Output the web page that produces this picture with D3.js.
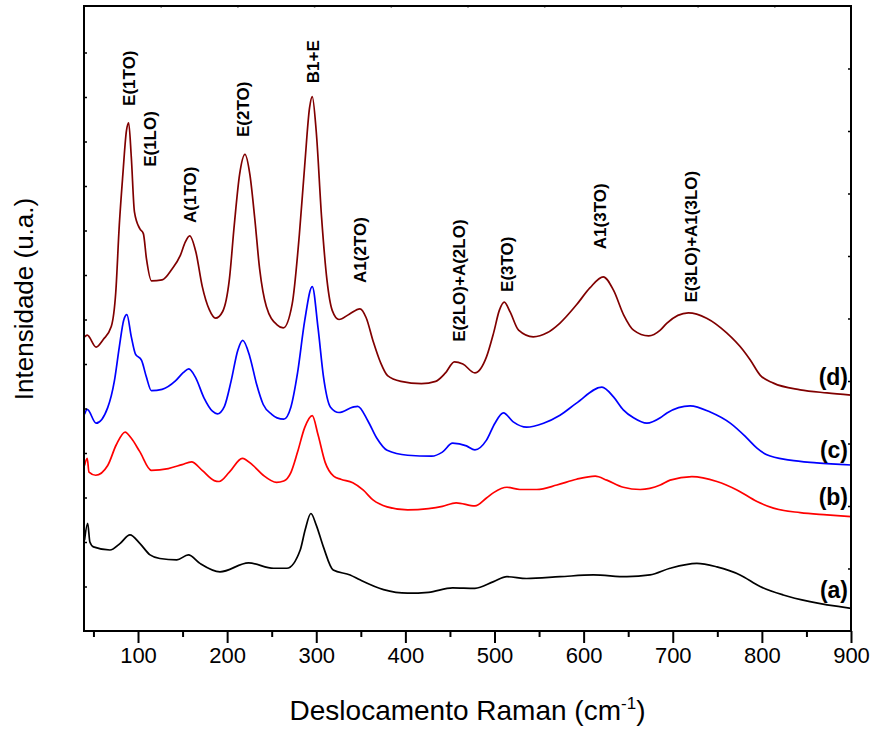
<!DOCTYPE html>
<html>
<head>
<meta charset="utf-8">
<script src="https://cdn.jsdelivr.net/npm/d3@7"></script>
<style>
  body { margin: 0; background: #fff; }
  svg { font-family: "Liberation Sans", Arial, sans-serif; }
</style>
</head>
<body>
<svg id="chart" width="878" height="731"></svg>
<script>
// espectros Raman: [deslocamento (cm-1), intensidade (u.a.)]
var serieA = [[40, 2.04], [43.5, 2.42], [46, 2.0], [50, 1.89], [68.5, 1.82], [80, 1.97], [91, 2.16], [102, 1.97],
  [113.5, 1.71], [124.5, 1.63], [143.5, 1.60], [156.5, 1.71], [169.5, 1.52], [192, 1.33], [224, 1.53], [252, 1.41],
  [267, 1.41], [282, 1.82], [287.5, 2.27], [294, 2.64], [300, 2.38], [308, 1.89], [319, 1.37], [338, 1.26],
  [349, 1.15], [375.5, 0.93], [402.5, 0.85], [426, 0.87], [453, 0.97], [478, 0.96], [499, 1.11], [514, 1.22],
  [536, 1.18], [573.5, 1.22], [611, 1.26], [648.5, 1.22], [674.5, 1.26], [697, 1.41], [727, 1.52], [749.5, 1.44],
  [775.5, 1.26], [798, 1.00], [824, 0.81], [854, 0.66], [900, 0.51]];

var serieB = [[40, 3.72], [43, 3.88], [45, 3.57], [52.5, 3.50], [66, 3.72], [75.5, 4.18], [85.5, 4.47], [92.5, 4.33],
  [102, 4.03], [115, 3.61], [134, 3.65], [149.5, 3.74], [160, 3.80], [172, 3.61], [185.5, 3.38], [191, 3.36],
  [202.5, 3.57], [217, 3.88], [229, 3.72], [240.5, 3.50], [255.5, 3.34], [263.5, 3.37], [271.5, 3.56], [279, 4.02],
  [287, 4.57], [295.5, 4.84], [302, 4.41], [310, 3.79], [319.5, 3.48], [327.5, 3.41], [341, 3.33], [352.5, 3.17],
  [364, 2.94], [379.5, 2.79], [402.5, 2.72], [426, 2.75], [441.5, 2.80], [457, 2.88], [478, 2.81], [491, 2.99],
  [499, 3.11], [514, 3.23], [528.5, 3.18], [547.5, 3.18], [570, 3.28], [592, 3.41], [613, 3.48], [626, 3.39],
  [644.5, 3.23], [663.5, 3.18], [686, 3.28], [697, 3.39], [721.5, 3.47], [749.5, 3.36], [772, 3.17], [794.5, 2.91],
  [813, 2.76], [843, 2.66], [873, 2.61], [900, 2.57]];

var serieC = [[40, 4.87], [43, 4.98], [53, 4.67], [66, 5.02], [73.5, 5.62], [79, 6.38], [84, 6.99], [87.5, 7.11],
  [92.5, 6.61], [97, 6.23], [104, 6.08], [109.5, 5.70], [115, 5.40], [127, 5.43], [142, 5.62], [151, 5.81],
  [157, 5.89], [164.5, 5.70], [174, 5.24], [183.5, 4.94], [189, 4.88], [197, 5.05], [204.5, 5.62], [212, 6.31],
  [217.5, 6.53], [225.5, 6.16], [233, 5.55], [240.5, 5.09], [250, 4.87], [256, 4.79], [263.5, 4.76], [271.5, 5.03],
  [279, 5.80], [287, 6.97], [295.5, 7.74], [302, 6.81], [308, 5.73], [316, 5.03], [325.5, 4.91], [341, 5.03],
  [346.5, 5.05], [358, 4.72], [368, 4.33], [379.5, 4.06], [402.5, 3.95], [429.5, 3.93], [441.5, 4.02], [453, 4.22],
  [468.5, 4.16], [478, 4.07], [491, 4.29], [500.5, 4.67], [510, 4.90], [521, 4.70], [536, 4.58], [555, 4.67],
  [573.5, 4.85], [592, 5.12], [620.5, 5.48], [633.5, 5.26], [644.5, 4.97], [656, 4.79], [671, 4.67], [686, 4.79],
  [693.5, 4.90], [719.5, 5.06], [742, 4.92], [764.5, 4.67], [783, 4.34], [794.5, 4.11], [805.5, 3.96], [831.5, 3.84],
  [861.5, 3.78], [900, 3.73]];

var serieD = [[40, 6.61], [43, 6.65], [53, 6.38], [61, 6.55], [70, 6.84], [75, 7.60], [79, 9.12], [83, 10.26],
  [87, 11.24], [89.5, 11.42], [92.5, 10.64], [96, 9.42], [102, 9.04], [106, 8.93], [109.5, 8.36], [115, 7.87],
  [127, 7.89], [138, 8.13], [147.5, 8.44], [153, 8.74], [158, 8.88], [165, 8.51], [172, 7.75], [180, 7.22],
  [187, 7.03], [195, 7.18], [202.5, 7.90], [208, 9.12], [214, 10.26], [220, 10.71], [225.5, 10.26], [231, 9.27],
  [236.5, 8.13], [244, 7.29], [256, 6.88], [263, 6.81], [273, 7.35], [281, 8.90], [287, 10.45], [292.5, 11.76],
  [295.5, 12.01], [300, 11.22], [306, 9.29], [312, 7.89], [318, 7.20], [325.5, 7.00], [337, 7.12], [349, 7.24],
  [356, 7.04], [364, 6.50], [372, 6.04], [380, 5.74], [395, 5.61], [418, 5.56], [434, 5.61], [445, 5.80],
  [455, 6.05], [464.5, 6.00], [478, 5.80], [491, 6.16], [499, 6.70], [505.5, 7.21], [511, 7.39], [517.5, 7.17],
  [527, 6.76], [543.5, 6.61], [559, 6.70], [573.5, 6.92], [592, 7.33], [607, 7.71], [622, 7.96], [633.5, 7.66],
  [645, 7.10], [656, 6.76], [673, 6.63], [686, 6.76], [693.5, 6.92], [717.5, 7.15], [738, 7.03], [760.5, 6.70],
  [779, 6.31], [787, 6.09], [798, 5.75], [813, 5.57], [843, 5.42], [873, 5.35], [900, 5.30]];

var series = [serieA, serieB, serieC, serieD];
var nomesSeries = ["(a)", "(b)", "(c)", "(d)"];
var cores = ["#000000", "#ff0000", "#0000ff", "#800000"];
var yNomes = [0.92, 3.01, 4.07, 5.71];   // altura dos rotulos (a)..(d)

// modos vibracionais
var picoNomes = ["E(1TO)", "E(1LO)", "A(1TO)", "E(2TO)", "B1+E", "A1(2TO)", "E(2LO)+A(2LO)", "E(3TO)", "A1(3TO)", "E(3LO)+A1(3LO)"];
var picoX = [89.9, 113.5, 158.4, 217.8, 296.4, 348.7, 460, 514.1, 618.5, 720.1];
var picoY = [11.80, 10.43, 9.17, 11.10, 12.31, 7.82, 6.50, 7.62, 8.58, 7.38];

var xTicks = [100, 200, 300, 400, 500, 600, 700, 800, 900];
var xMinor = [50, 150, 250, 350, 450, 550, 650, 750, 850];

var margin = { top: 6, right: 27, bottom: 100, left: 84 },
  width = 878 - margin.left - margin.right,
  height = 731 - margin.top - margin.bottom;

var svg = d3.select("#chart").append("g")
  .attr("transform", "translate(" + margin.left + "," + margin.top + ")");

var x = d3.scaleLinear().domain([39.4, 900]).range([0, width]);
var yMax = 14.045;
var y = d3.scaleLinear().domain([0, yMax]).range([height, 0]);

svg.append("clipPath").attr("id", "area")
  .append("rect").attr("width", width).attr("height", height);

// curvas
var linha = d3.line()
  .x(function (d) { return x(d[0]); })
  .y(function (d) { return y(d[1]); })
  .curve(d3.curveMonotoneX);

svg.append("g").attr("clip-path", "url(#area)")
  .selectAll("path")
  .data(series)
  .enter()
  .append("path")
  .attr("d", linha)
  .attr("fill", "none")
  .attr("stroke", function (d, i) { return cores[i]; })
  .attr("stroke-width", 1.7)
  .attr("stroke-linejoin", "round");

// eixo x (baixo)
var eixoX = svg.append("g")
  .attr("transform", "translate(0," + height + ")")
  .call(d3.axisBottom(x).tickValues(xTicks).tickSize(12).tickPadding(4));
eixoX.selectAll("text").style("font-size", "22px").attr("fill", "#000");
eixoX.selectAll(".tick line").attr("stroke-width", 2);
eixoX.select(".domain").remove();

svg.append("g")
  .attr("transform", "translate(0," + height + ")")
  .call(d3.axisBottom(x).tickValues(xMinor).tickSize(6).tickFormat(""))
  .call(function (g) { g.select(".domain").remove(); })
  .selectAll(".tick line").attr("stroke-width", 2);

// eixo y: so marcas internas
svg.append("g")
  .call(d3.axisRight(y).tickValues(d3.range(1, 14)).tickSize(3).tickFormat(""))
  .call(function (g) { g.select(".domain").remove(); })
  .selectAll(".tick line").attr("stroke-width", 1.5);

// eixo direito e topo
svg.append("g")
  .attr("transform", "translate(" + width + ",0)")
  .call(d3.axisLeft(y).tickValues(d3.range(1, 10).map(function (k) { return yMax * k / 10; })).tickSize(3).tickFormat(""))
  .call(function (g) { g.select(".domain").remove(); })
  .selectAll(".tick line").attr("stroke-width", 1.5);

var xTop = d3.scaleLinear().domain([0, 10]).range([0, width]);
svg.append("g")
  .call(d3.axisBottom(xTop).tickValues(d3.range(1, 10)).tickSize(2).tickFormat(""))
  .call(function (g) { g.select(".domain").remove(); })
  .selectAll(".tick line").attr("stroke", "#999").attr("stroke-width", 1.5);

// moldura
svg.append("rect")
  .attr("width", width)
  .attr("height", height)
  .attr("fill", "none")
  .attr("stroke", "#000")
  .attr("stroke-width", 2);

// rotulos dos picos
svg.selectAll(".pico")
  .data(picoNomes)
  .enter()
  .append("text")
  .attr("class", "pico")
  .attr("transform", function (d, i) { return "translate(" + x(picoX[i]) + "," + y(picoY[i]) + ") rotate(-90)"; })
  .attr("dy", "0.35em")
  .style("font-size", "17px")
  .style("font-weight", "bold")
  .text(function (d) { return d; });

// rotulos das amostras
svg.selectAll(".amostra")
  .data(nomesSeries)
  .enter()
  .append("text")
  .attr("class", "amostra")
  .attr("x", width - 3)
  .attr("y", function (d, i) { return y(yNomes[i]); })
  .attr("dy", "0.35em")
  .attr("text-anchor", "end")
  .style("font-size", "23px")
  .style("font-weight", "bold")
  .text(function (d) { return d; });

// titulos
var tx = svg.append("text")
  .attr("x", width / 2)
  .attr("y", height + 89)
  .attr("text-anchor", "middle")
  .style("font-size", "28px");
tx.append("tspan").text("Deslocamento Raman (cm");
tx.append("tspan").attr("dy", -11).style("font-size", "17px").text("-1");
tx.append("tspan").attr("dy", 11).text(")");

svg.append("text")
  .attr("transform", "translate(" + (-51) + "," + 293 + ") rotate(-90)")
  .attr("text-anchor", "middle")
  .style("font-size", "26px")
  .text("Intensidade (u.a.)");
</script>
</body>
</html>
